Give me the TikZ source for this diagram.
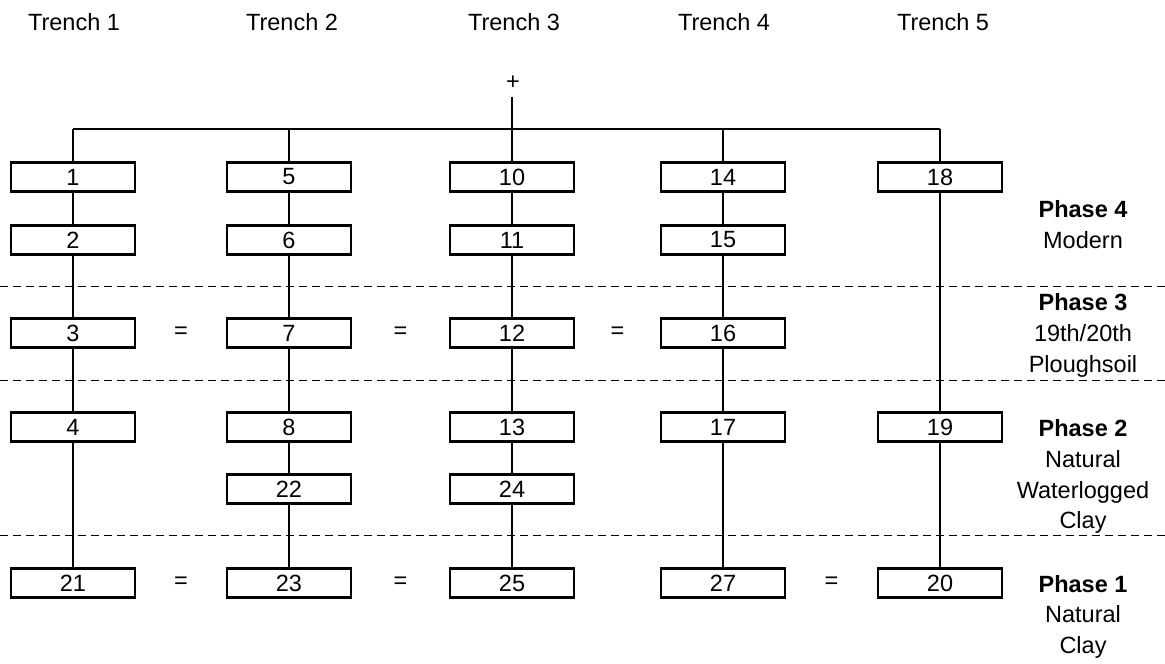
\documentclass[tikz,border=0pt]{standalone}
\usepackage{fontspec}
\setmainfont{Liberation Sans}
\usetikzlibrary{calc}
\begin{document}
\begin{tikzpicture}[x=1pt,y=-1pt,
  every node/.style={font=\fontsize{23.5}{28}\selectfont},
  ctx/.style={draw, line width=2.8pt, minimum width=124pt, minimum height=29.5pt, inner sep=0pt, fill=white},
  link/.style={line width=1.2pt},
  divider/.style={line width=1pt, dash pattern=on 8pt off 5pt},
  lbl/.style={anchor=base, inner sep=0pt},
  eq/.style={inner sep=0pt}]
\useasboundingbox (0,0) rectangle (1165,664);

% dividers
\coordinate (d1a) at (0,286); \coordinate (d1b) at (1165,286);
\coordinate (d2a) at (0,380); \coordinate (d2b) at (1165,380);
\coordinate (d3a) at (0,535); \coordinate (d3b) at (1165,535);
\draw[divider] (d1a) -- (d1b);
\draw[divider] (d2a) -- (d2b);
\draw[divider] (d3a) -- (d3b);

% trench headings
\node[lbl] (t1) at (74,30) {Trench 1};
\node[lbl] (t2) at (292,30) {Trench 2};
\node[lbl] (t3) at (514,30) {Trench 3};
\node[lbl] (t4) at (724,30) {Trench 4};
\node[lbl] (t5) at (943,30) {Trench 5};

% top
\node[inner sep=0pt] (top) at (513,83) {+};
\coordinate (c1) at (73,129);
\coordinate (c2) at (289,129);
\coordinate (c3) at (512,129);
\coordinate (c4) at (723,129);
\coordinate (c5) at (940,129);

% boxes
\node[ctx] (n1)  at (73,177) {1};
\node[ctx] (n2)  at (73,240) {2};
\node[ctx] (n3)  at (73,333) {3};
\node[ctx] (n4)  at (73,427) {4};
\node[ctx] (n21) at (73,583) {21};

\node[ctx] (n5)  at (289,177) {5};
\node[ctx] (n6)  at (289,240) {6};
\node[ctx] (n7)  at (289,333) {7};
\node[ctx] (n8)  at (289,427) {8};
\node[ctx] (n22) at (289,489) {22};
\node[ctx] (n23) at (289,583) {23};

\node[ctx] (n10) at (512,177) {10};
\node[ctx] (n11) at (512,240) {11};
\node[ctx] (n12) at (512,333) {12};
\node[ctx] (n13) at (512,427) {13};
\node[ctx] (n24) at (512,489) {24};
\node[ctx] (n25) at (512,583) {25};

\node[ctx] (n14) at (723,177) {14};
\node[ctx] (n15) at (723,240) {15};
\node[ctx] (n16) at (723,333) {16};
\node[ctx] (n17) at (723,427) {17};
\node[ctx] (n27) at (723,583) {27};

\node[ctx] (n18) at (940,177) {18};
\node[ctx] (n19) at (940,427) {19};
\node[ctx] (n20) at (940,583) {20};

% connectors
\draw[link, shorten <=7pt] (top.south -| n10) -- (n10.north);
\draw[link] (c1) -- (c5);
\draw[link] (c1) -- (n1.north);
\draw[link] (c2) -- (n5.north);
\draw[link] (c4) -- (n14.north);
\draw[link] (c5) -- (n18.north);
\draw[link] (n1) -- (n2);
\draw[link] (n2) -- (n3);
\draw[link] (n3) -- (n4);
\draw[link] (n4) -- (n21);
\draw[link] (n5) -- (n6);
\draw[link] (n6) -- (n7);
\draw[link] (n7) -- (n8);
\draw[link] (n8) -- (n22);
\draw[link] (n22) -- (n23);
\draw[link] (n10) -- (n11);
\draw[link] (n11) -- (n12);
\draw[link] (n12) -- (n13);
\draw[link] (n13) -- (n24);
\draw[link] (n24) -- (n25);
\draw[link] (n14) -- (n15);
\draw[link] (n15) -- (n16);
\draw[link] (n16) -- (n17);
\draw[link] (n17) -- (n27);
\draw[link] (n18) -- (n19);
\draw[link] (n19) -- (n20);

% equals
\node[eq] (e1) at ($(n3)!0.5!(n7)$) {=};
\node[eq] (e2) at ($(n7)!0.5!(n12)$) {=};
\node[eq] (e3) at ($(n12)!0.5!(n16)$) {=};
\node[eq] (e4) at ($(n21)!0.5!(n23)$) {=};
\node[eq] (e5) at ($(n23)!0.5!(n25)$) {=};
\node[eq] (e6) at ($(n27)!0.5!(n20)$) {=};

% phase labels
\node[lbl] (p4a) at (1083,217) {\bfseries Phase 4};
\node[lbl] (p4b) at (1083,248) {Modern};
\node[lbl] (p3a) at (1083,310) {\bfseries Phase 3};
\node[lbl] (p3b) at (1083,341) {19th/20th};
\node[lbl] (p3c) at (1083,372) {Ploughsoil};
\node[lbl] (p2a) at (1083,436) {\bfseries Phase 2};
\node[lbl] (p2b) at (1083,467) {Natural};
\node[lbl] (p2c) at (1083,498) {Waterlogged};
\node[lbl] (p2d) at (1083,528) {Clay};
\node[lbl] (p1a) at (1083,592) {\bfseries Phase 1};
\node[lbl] (p1b) at (1083,622) {Natural};
\node[lbl] (p1c) at (1083,653) {Clay};
\end{tikzpicture}
\end{document}
